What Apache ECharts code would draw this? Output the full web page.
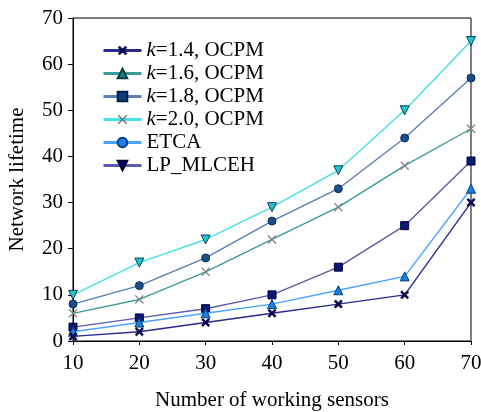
<!DOCTYPE html>
<html><head><meta charset="utf-8">
<script src="https://cdn.jsdelivr.net/npm/echarts@6/dist/echarts.min.js"></script>
<style>html,body{margin:0;padding:0;background:#fff}#c{width:481px;height:412px}</style>
</head><body><div id="c"></div>
<script>
const xValues = [10, 20, 30, 40, 50, 60, 70];
const seriesNames = ['k=1.4, OCPM', 'k=1.6, OCPM', 'k=1.8, OCPM', 'k=2.0, OCPM', 'ETCA', 'LP_MLCEH'];
const k14 = [1, 2, 4, 6, 8, 10, 30];
const k16 = [6, 9, 15, 22, 29, 38, 46];
const k18 = [8, 12, 18, 26, 33, 44, 57];
const k20 = [10, 17, 22, 29, 37, 50, 65];
const etca = [2, 4, 6, 8, 11, 14, 33];
const lpmlceh = [3, 5, 7, 10, 16, 25, 39];
const yTicks = [0, 10, 20, 30, 40, 50, 60, 70];

const FONT = '"Liberation Serif", "Times New Roman", serif';
const FS = 21;
const boldX = 'path://M2,0 L5,3 L8,0 L10,2 L7,5 L10,8 L8,10 L5,7 L2,10 L0,8 L3,5 L0,2 Z';
const thinX = 'path://M1,0 L5,4 L9,0 L10,1 L6,5 L10,9 L9,10 L5,6 L1,10 L0,9 L4,5 L0,1 Z';

// plot-marker styles (as drawn in the plot) and legend-marker styles (as drawn in the legend)
const styles = [
  {line: '#2a2a8c', sym: boldX, size: 9, fill: '#0a0a50', border: '#0a0a50', bw: 0,
   lg: {sym: boldX, fill: '#0a0a50', border: '#0a0a50', bw: 0}},
  {line: '#3c9c9c', sym: thinX, size: 9, fill: '#808080', border: '#808080', bw: 0,
   lg: {sym: 'triangle', fill: '#1f8080', border: '#0d4040', bw: 1}},
  {line: '#5a7fb5', sym: 'circle', size: 8, fill: '#1b4f8a', border: '#0d2d5a', bw: 1,
   lg: {sym: 'rect', fill: '#0a3c80', border: '#06204a', bw: 1}},
  {line: '#44e2e6', sym: 'triangle', rot: 180, size: 9, fill: '#22c6d0', border: '#0a4050', bw: 1,
   lg: {sym: thinX, fill: '#707070', border: '#707070', bw: 0}},
  {line: '#4aa3ff', sym: 'triangle', size: 9, fill: '#1a80e0', border: '#0a3c7a', bw: 1,
   lg: {sym: 'circle', fill: '#1a80f0', border: '#0a3c7a', bw: 1}},
  {line: '#5c5caa', sym: 'rect', size: 8, fill: '#0a1a70', border: '#000040', bw: 1,
   lg: {sym: 'triangle', rot: 180, fill: '#000060', border: '#000030', bw: 1}}
];
const dataSets = [k14, k16, k18, k20, etca, lpmlceh];

const series = seriesNames.map((n, i) => {
  const s = styles[i];
  return {
    name: n,
    type: 'line',
    // series-level symbol/itemStyle drive the legend icon
    symbol: s.lg.sym,
    symbolRotate: s.lg.rot || 0,
    symbolSize: s.size,
    showAllSymbol: true,
    itemStyle: {color: s.lg.fill, borderColor: s.lg.border, borderWidth: s.lg.bw},
    lineStyle: {color: s.line, width: 1.4},
    // per-point markers as drawn in the plot
    data: xValues.map((x, j) => ({
      value: [x, dataSets[i][j]],
      symbol: s.sym,
      symbolRotate: s.rot || 0,
      itemStyle: {color: s.fill, borderColor: s.border, borderWidth: s.bw}
    })),
    z: 10 - i,
    animation: false
  };
});

const chart = echarts.init(document.getElementById('c'), null, {renderer: 'canvas'});
chart.setOption({
  animation: false,
  backgroundColor: '#fff',
  grid: {left: 73, right: 10, top: 18, bottom: 71, show: true, borderColor: '#000', borderWidth: 1,
    backgroundColor: 'transparent', containLabel: false, outerBoundsMode: 'none'},
  legend: {
    orient: 'vertical', left: 97, top: 35,
    itemWidth: 38, itemHeight: 12, itemGap: 2,
    data: seriesNames,
    formatter: n => n.startsWith('k=') ? '{i|k}' + n.slice(1) : n,
    textStyle: {fontFamily: FONT, fontSize: FS, lineHeight: 21, color: '#000',
      rich: {i: {fontFamily: FONT, fontSize: FS, lineHeight: 21, fontStyle: 'italic', color: '#000'}}},
    lineStyle: {width: 3}
  },
  xAxis: {
    type: 'value', min: 10, max: 70, interval: 10,
    name: 'Number of working sensors', nameLocation: 'middle', nameGap: 49,
    nameTextStyle: {fontFamily: FONT, fontSize: FS, color: '#000'},
    axisLine: {lineStyle: {color: '#000', width: 1}},
    axisTick: {show: true, length: 4, lineStyle: {color: '#000'}},
    axisLabel: {fontFamily: FONT, fontSize: FS, color: '#000', margin: 12, showMaxLabel: true, showMinLabel: true},
    splitLine: {show: false}
  },
  yAxis: {
    type: 'value', min: yTicks[0], max: yTicks[yTicks.length - 1], interval: 10,
    name: 'Network lifetime', nameLocation: 'middle', nameGap: 45,
    nameTextStyle: {fontFamily: FONT, fontSize: FS, color: '#000'},
    axisLine: {show: true, lineStyle: {color: '#000', width: 1}},
    axisTick: {show: true, length: 5, lineStyle: {color: '#000'}},
    axisLabel: {fontFamily: FONT, fontSize: FS, color: '#000', margin: 10},
    splitLine: {show: false}
  },
  series: series
});
</script></body></html>
